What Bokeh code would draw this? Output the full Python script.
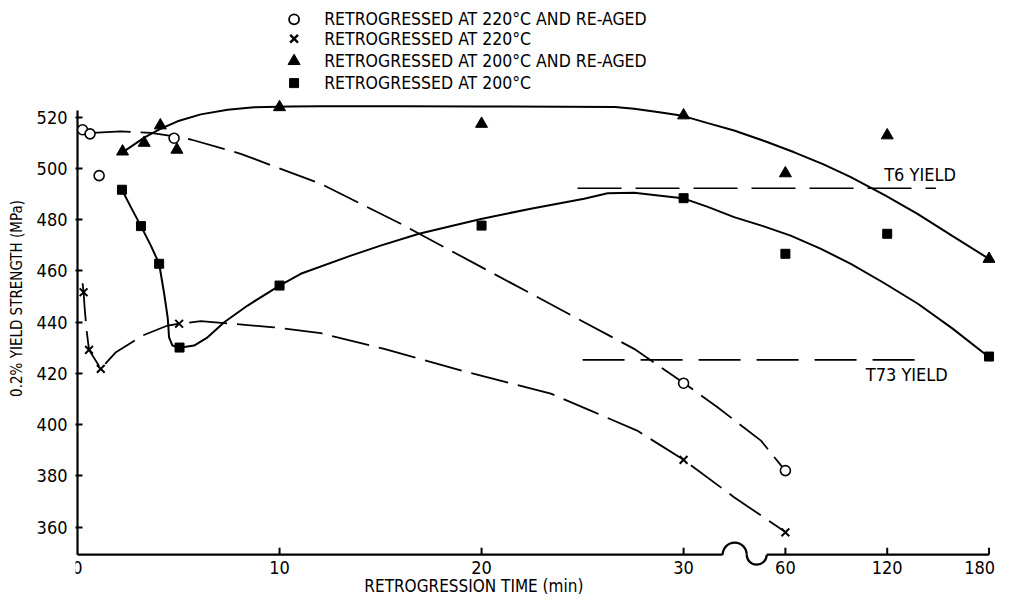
import math
from bokeh.plotting import figure
from bokeh.models import Range1d, FixedTicker
from bokeh.core.properties import value
from bokeh.embed import file_html
from bokeh.resources import INLINE

FONT = "DejaVu Sans Condensed"

# ---------------- data (time in min, 0.2% yield strength in MPa) ----------------
circ_t = [0.25, 0.62, 1.07, 4.78, 30, 60]            # retrogressed 220C and re-aged
circ_v = [515.1, 513.5, 497.2, 511.8, 416.2, 382.1]
cross_t = [0.30, 0.57, 1.15, 5.03, 30, 60]           # retrogressed 220C
cross_v = [451.7, 429.2, 421.8, 439.4, 386.3, 358.0]
tri_t = [2.23, 3.30, 4.10, 4.92, 10, 20, 30, 60, 120, 180]   # retrogressed 200C and re-aged
tri_v = [506.6, 510.0, 516.8, 507.3, 523.9, 517.4, 520.7, 498.1, 512.9, 464.7]
sq_t = [2.20, 3.14, 4.04, 5.05, 10, 20, 30, 60, 120, 180]    # retrogressed 200C
sq_v = [491.7, 477.5, 462.8, 430.1, 454.3, 477.7, 488.4, 466.7, 474.5, 426.6]

# hand-drawn trend curves (x in axis units of the broken scale)
tri_curve_x = [2.23, 3.30, 4.12, 4.95, 6.10, 7.43, 8.74, 10.5, 12.0, 16, 20, 24, 26.6, 27.55,
               28.8, 29.87, 31.2, 32.5, 34.0, 35.48, 36.9, 38.28, 40.0, 41.58, 43.3, 45.12]
tri_curve_v = [506.3, 512.0, 515.5, 518.4, 521.1, 522.9, 523.9, 524.2, 524.3, 524.3, 524.2,
               524.1, 524.0, 523.3, 521.9, 520.7, 517.7, 514.8, 510.7, 506.3, 501.7, 496.6,
               489.4, 482.3, 473.7, 464.7]
sq_curve_x = [2.20, 2.64, 3.14, 3.63, 4.04, 4.29, 4.46, 4.50, 4.53, 4.70, 5.05, 5.77, 6.44,
              7.26, 8.42, 10.0, 11.05, 13.53, 15.0, 16.9, 19.97, 22.5, 25.08, 26.24, 27.55,
              29.95, 31.2, 32.5, 33.9, 35.3, 36.8, 38.28, 39.9, 41.6, 43.3, 45.08]
sq_curve_v = [491.7, 484.9, 477.5, 469.9, 462.8, 451.1, 442.0, 438.0, 434.1, 430.9, 430.0,
              430.9, 434.1, 440.0, 446.5, 454.3, 458.9, 466.0, 469.9, 474.5, 480.3, 484.4,
              488.2, 490.3, 490.5, 488.4, 485.0, 481.0, 477.6, 473.8, 468.6, 462.8, 455.4,
              447.2, 437.6, 426.6]
circ_curve_x = [0.75, 2.14, 3.63, 4.78, 5.61, 8.08, 12.04, 16.0, 20.3, 25.08, 27.55, 30.03,
                31.68, 33.83, 35.03]
circ_curve_v = [513.9, 514.5, 513.9, 512.5, 511.3, 505.7, 494.0, 478.4, 460.2, 440.0, 429.6,
                416.2, 406.8, 393.8, 382.1]
cross_curve_x = [0.25, 0.30, 0.35, 0.45, 0.57, 1.15, 1.90, 3.22, 4.46, 5.03, 6.10, 9.73,
                 12.04, 15.18, 19.3, 23.43, 25.4, 27.7, 30.0, 32.5, 35.06]
cross_curve_v = [455.2, 451.7, 445.9, 436.8, 429.2, 421.8, 428.3, 434.8, 438.7, 439.4, 440.4,
                 438.0, 435.7, 429.6, 420.5, 412.1, 405.5, 397.7, 386.3, 371.7, 358.0]

# reference levels
t6_yield = 492.3
t73_yield = 425.3
t6_span = [24.75, 42.49]
t73_span = [25.0, 41.91]

x_ticks = [0, 10, 20, 30, 60, 120, 180]
x_tick_labels = ["0", "10", "20", "30", "60", "120", "180"]
y_ticks = [360, 380, 400, 420, 440, 460, 480, 500, 520]

legend_labels = ["RETROGRESSED AT 220°C AND RE-AGED",
                 "RETROGRESSED AT 220°C",
                 "RETROGRESSED AT 200°C AND RE-AGED",
                 "RETROGRESSED AT 200°C"]

# ---------------- broken time axis ----------------
BREAK_STEP = 5.04


def axis_x(t):
    if t <= 30:
        return t
    if t <= 60:
        return 30 + BREAK_STEP * (t - 30) / 30
    return 30 + BREAK_STEP + BREAK_STEP * (t - 60) / 60


AXIS_V = 349.3       # value at which the time axis is drawn
Y_TOP = 522.6

p = figure(width=995, height=596, output_backend="svg", toolbar_location=None,
           x_range=Range1d(-0.1, 45.44), y_range=Range1d(332.96, 565.54),
           x_axis_location=None, y_axis_location="left",
           min_border_left=75, min_border_right=0, min_border_top=0, min_border_bottom=0)
p.outline_line_color = None
p.grid.visible = False
p.background_fill_color = "white"
p.border_fill_color = "white"

ya = p.yaxis[0]
ya.ticker = FixedTicker(ticks=y_ticks)
ya.axis_line_color = None
ya.major_tick_in = 7
ya.major_tick_out = 0
ya.major_tick_line_width = 2
ya.major_tick_line_color = "black"
ya.minor_tick_line_color = None
ya.major_label_standoff = 8
ya.major_label_text_font = FONT
ya.major_label_text_font_size = "18px"
ya.major_label_text_color = "black"
ya.axis_label = "0.2% YIELD STRENGTH (MPa)"
ya.axis_label_text_font = FONT
ya.axis_label_text_font_size = "15px"
ya.axis_label_text_font_style = "normal"
ya.axis_label_text_color = "black"
ya.axis_label_standoff = 8

# axis lines
p.line([0, 0], [AXIS_V, Y_TOP], line_color="black", line_width=2.2)
p.line([0, 31.93], [AXIS_V, AXIS_V], line_color="black", line_width=2.2)
p.line([34.12, axis_x(180)], [AXIS_V, AXIS_V], line_color="black", line_width=2.2)
# break symbol
p.arc(x=[32.53], y=[AXIS_V], radius=12, radius_units="screen", start_angle=0,
      end_angle=math.pi, line_color="black", line_width=2.2)
p.arc(x=[33.62], y=[AXIS_V], radius=10, radius_units="screen", start_angle=math.pi,
      end_angle=2 * math.pi, line_color="black", line_width=2.2)

# x ticks and labels
xt = [axis_x(t) for t in x_ticks]
p.segment(x0=xt[1:], y0=[AXIS_V] * (len(xt) - 1), x1=xt[1:], y1=[AXIS_V + 2.7] * (len(xt) - 1),
          line_color="black", line_width=2)
p.text(x=xt[:-1], y=[344.1] * (len(xt) - 1), text=x_tick_labels[:-1], text_font=value(FONT),
       text_font_size="18px", text_align="center", text_baseline="middle", text_color="black")
# last label kept inside the drawing area
p.text(x=xt[-1:], y=[344.1], text=x_tick_labels[-1:], text_font=value(FONT),
       text_font_size="18px", text_align="right", text_baseline="middle", text_color="black",
       x_offset=6)
p.text(x=[19.62], y=[336.9], text=["RETROGRESSION TIME (min)"], text_font=value(FONT),
       text_font_size="17px", text_align="center", text_baseline="middle", text_color="black")

# reference lines
p.line(t6_span, [t6_yield, t6_yield], line_color="black", line_width=1.6, line_dash="44 14")
p.line(t73_span, [t73_yield, t73_yield], line_color="black", line_width=1.6, line_dash="42 16")
p.text(x=[39.93], y=[497.5], text=["T6 YIELD"], text_font=value(FONT), text_font_size="18px",
       text_baseline="middle", text_color="black")
p.text(x=[39.02], y=[419.4], text=["T73 YIELD"], text_font=value(FONT), text_font_size="18px",
       text_baseline="middle", text_color="black")

# curves
p.line(tri_curve_x, tri_curve_v, line_color="black", line_width=2)
p.line(sq_curve_x, sq_curve_v, line_color="black", line_width=2)
p.line(circ_curve_x, circ_curve_v, line_color="black", line_width=1.8, line_dash="38 10")
p.line(cross_curve_x, cross_curve_v, line_color="black", line_width=1.8, line_dash="38 10")

# markers
p.scatter([axis_x(t) for t in circ_t], circ_v, marker="circle", size=10, line_color="black",
          line_width=1.6, fill_color="white")
p.scatter([axis_x(t) for t in cross_t], cross_v, marker="x", size=11, line_color="black",
          line_width=2)
p.scatter([axis_x(t) for t in tri_t], tri_v, marker="triangle", size=12, line_color="black",
          fill_color="black")
p.scatter([axis_x(t) for t in sq_t], sq_v, marker="square", size=9, line_color="black",
          fill_color="black")

# legend (drawn manually)
LEG_MX = 10.72
LEG_TX = 12.21
leg_rows = [558.2, 550.6, 541.9, 533.3]
leg_markers = ["circle", "x", "triangle", "square"]
leg_fill = ["white", None, "black", "black"]
leg_size = [10, 11, 12, 9]
leg_lw = [1.8, 2.4, 1, 1]
for row, mk, fc, sz, lw in zip(leg_rows, leg_markers, leg_fill, leg_size, leg_lw):
    p.scatter([LEG_MX], [row], marker=mk, size=sz, line_color="black", line_width=lw,
              fill_color=fc)
p.text(x=[LEG_TX] * 4, y=leg_rows, text=legend_labels, text_font=value(FONT),
       text_font_size="17.5px", text_baseline="middle", text_color="black")

open("out.html", "w").write(file_html(p, INLINE))
